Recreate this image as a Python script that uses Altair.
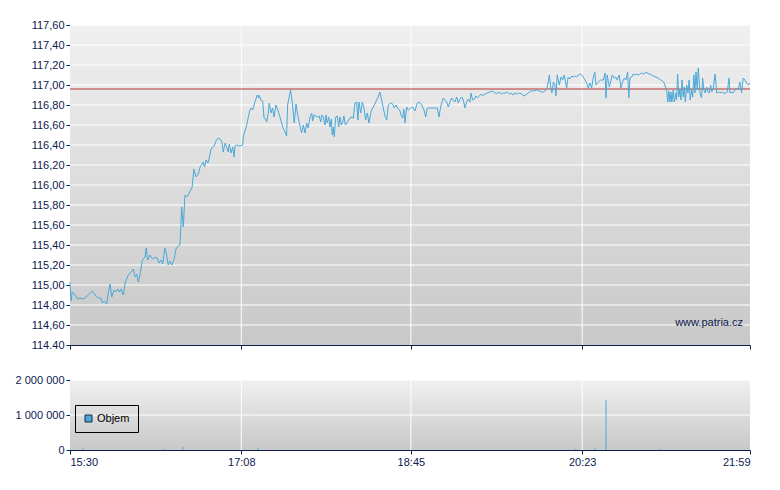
import altair as alt
import pandas as pd

# ---------------- data ----------------
session_open = "15:30"
time_ticks = ["15:30", "17:08", "18:45", "20:23", "21:59"]

# minutes after 15:30 and last price
minutes_after_open = [
    0.0, 0.6, 1.3, 2.9, 4.4, 5.7, 7.0, 8.6, 10.5, 12.8,
    14.3, 16.2, 17.6, 18.5, 19.6, 21.0, 21.9, 22.9, 23.9, 25.2,
    26.1, 27.3, 28.2, 29.2, 30.5, 31.5, 33.3, 34.9, 36.2, 37.2,
    38.2, 39.1, 40.0, 41.4, 42.9, 43.6, 44.4, 45.8, 46.7, 47.6,
    48.6, 49.9, 50.9, 52.1, 53.0, 54.3, 55.3, 56.2, 57.2, 58.2,
    59.5, 60.6, 61.9, 62.9, 63.9, 64.8, 65.8, 66.8, 67.7, 69.0,
    69.8, 70.9, 72.1, 73.4, 74.4, 75.3, 76.2, 77.0, 77.8, 78.9,
    79.7, 80.5, 81.6, 82.5, 83.5, 84.8, 85.8, 86.8, 87.7, 88.7,
    89.6, 90.5, 91.1, 92.1, 93.1, 93.8, 94.4, 95.4, 97.2, 98.8,
    99.1, 100.1, 101.1, 102.6, 103.5, 104.5, 105.8, 107.1, 107.9, 108.3,
    109.1, 110.2, 111.0, 111.9, 112.5, 113.4, 114.0, 115.0, 115.9, 116.7,
    117.8, 119.1, 120.1, 121.7, 123.0, 123.9, 124.5, 125.4, 126.2, 127.2,
    128.3, 129.3, 130.2, 131.2, 132.5, 133.5, 134.4, 135.4, 136.3, 137.3,
    138.3, 138.8, 139.6, 140.7, 141.7, 142.6, 143.4, 144.1, 144.9, 145.9,
    146.4, 147.2, 148.0, 148.7, 149.5, 150.0, 150.6, 151.2, 152.0, 152.9,
    153.7, 154.4, 155.2, 156.0, 156.7, 157.5, 158.3, 159.4, 160.7, 162.1,
    163.0, 164.0, 164.7, 165.3, 166.3, 167.2, 168.2, 169.1, 170.1, 171.0,
    172.2, 173.1, 174.1, 175.4, 176.3, 177.3, 178.3, 179.2, 180.2, 181.2,
    182.1, 183.4, 184.6, 185.5, 186.5, 187.4, 188.8, 189.3, 190.3, 191.0,
    191.6, 192.6, 193.5, 194.9, 196.0, 197.3, 198.7, 199.8, 201.2, 202.5,
    203.5, 204.4, 205.5, 206.9, 208.2, 210.1, 211.1, 212.0, 213.5, 214.5,
    215.5, 216.4, 217.4, 218.3, 219.2, 220.2, 221.2, 222.1, 223.1, 224.1,
    225.0, 225.9, 226.9, 227.8, 228.8, 229.4, 230.3, 231.3, 232.2, 233.2,
    234.1, 235.1, 236.0, 237.4, 238.7, 240.2, 241.8, 243.1, 244.1, 245.0,
    246.0, 246.9, 247.9, 249.4, 250.1, 251.3, 252.3, 253.6, 254.5, 255.9,
    257.0, 258.4, 259.7, 260.8, 262.1, 263.5, 265.0, 266.9, 268.4, 269.8,
    271.1, 272.7, 273.6, 274.2, 275.0, 275.7, 276.5, 277.4, 278.0, 278.7,
    279.9, 280.9, 281.8, 282.7, 284.1, 285.0, 286.0, 287.0, 287.9, 288.9,
    289.8, 290.8, 291.7, 292.7, 293.6, 294.6, 295.6, 296.5, 297.4, 298.4,
    299.4, 300.2, 300.9, 302.3, 303.6, 305.1, 306.1, 306.6, 307.3, 308.5,
    309.3, 310.2, 311.2, 312.1, 313.1, 314.2, 315.2, 316.1, 317.1, 318.0,
    319.0, 319.7, 320.3, 321.3, 322.2, 323.2, 324.1, 325.1, 326.0, 327.0,
    327.9, 328.9, 329.9, 330.8, 331.8, 332.7, 333.7, 335.2, 336.5, 337.9,
    339.0, 339.9, 340.9, 341.5, 341.9, 342.6, 343.2, 343.8, 344.3, 345.1,
    345.7, 346.5, 347.0, 347.6, 348.2, 348.9, 349.5, 350.1, 350.8, 351.4,
    352.0, 352.8, 353.5, 354.2, 354.8, 355.6, 356.2, 356.9, 357.5, 358.1,
    358.8, 359.4, 360.4, 361.3, 361.9, 362.6, 363.4, 364.2, 364.9, 365.7,
    366.5, 367.1, 368.0, 369.0, 370.0, 370.9, 371.8, 372.8, 373.7, 375.1,
    376.0, 377.0, 377.5, 378.5, 379.4, 380.4, 381.3, 382.3, 383.2, 384.2,
    385.1, 386.1, 387.0, 388.0, 389.0,
]
price = [
    115.03, 114.84, 114.93, 114.90, 114.86, 114.87, 114.86, 114.87, 114.90, 114.94,
    114.90, 114.87, 114.87, 114.82, 114.84, 114.81, 114.92, 115.01, 114.88, 114.95,
    114.93, 114.96, 114.93, 114.96, 114.90, 115.02, 115.10, 115.13, 115.16, 115.08,
    115.11, 115.03, 115.10, 115.25, 115.28, 115.37, 115.25, 115.30, 115.27, 115.26,
    115.28, 115.27, 115.22, 115.25, 115.21, 115.37, 115.30, 115.20, 115.24, 115.20,
    115.25, 115.36, 115.39, 115.40, 115.78, 115.58, 115.90, 115.88, 115.90, 115.95,
    115.97, 116.16, 116.08, 116.11, 116.18, 116.20, 116.23, 116.18, 116.25, 116.22,
    116.27, 116.35, 116.38, 116.39, 116.44, 116.47, 116.46, 116.44, 116.33, 116.42,
    116.38, 116.33, 116.41, 116.32, 116.38, 116.28, 116.39, 116.40, 116.39, 116.40,
    116.48, 116.54, 116.60, 116.73, 116.77, 116.75, 116.83, 116.90, 116.87, 116.90,
    116.85, 116.84, 116.67, 116.66, 116.63, 116.72, 116.82, 116.72, 116.77, 116.68,
    116.80, 116.74, 116.68, 116.58, 116.53, 116.49, 116.80, 116.88, 116.95, 116.82,
    116.62, 116.81, 116.70, 116.62, 116.52, 116.60, 116.52, 116.62, 116.57, 116.68,
    116.72, 116.64, 116.70, 116.69, 116.68, 116.69, 116.63, 116.70, 116.68, 116.60,
    116.70, 116.62, 116.68, 116.58, 116.66, 116.50, 116.58, 116.48, 116.68, 116.69,
    116.58, 116.68, 116.60, 116.63, 116.69, 116.60, 116.62, 116.65, 116.68, 116.67,
    116.82, 116.83, 116.65, 116.83, 116.72, 116.83, 116.77, 116.65, 116.72, 116.62,
    116.73, 116.77, 116.80, 116.85, 116.88, 116.93, 116.85, 116.77, 116.69, 116.65,
    116.80, 116.82, 116.81, 116.77, 116.80, 116.77, 116.74, 116.70, 116.67, 116.76,
    116.62, 116.78, 116.75, 116.77, 116.78, 116.74, 116.82, 116.83, 116.80, 116.75,
    116.68, 116.77, 116.77, 116.77, 116.77, 116.77, 116.68, 116.78, 116.87, 116.85,
    116.83, 116.78, 116.83, 116.87, 116.85, 116.83, 116.88, 116.82, 116.86, 116.88,
    116.85, 116.77, 116.83, 116.86, 116.83, 116.92, 116.85, 116.86, 116.89, 116.87,
    116.89, 116.91, 116.89, 116.91, 116.92, 116.93, 116.94, 116.92, 116.91, 116.93,
    116.92, 116.91, 116.92, 116.92, 116.93, 116.91, 116.92, 116.90, 116.92, 116.91,
    116.92, 116.91, 116.89, 116.90, 116.92, 116.94, 116.94, 116.95, 116.94, 116.93,
    116.93, 116.96, 117.03, 117.10, 116.98, 116.92, 117.03, 117.00, 116.89, 117.10,
    117.00, 117.08, 117.05, 117.10, 116.97, 117.08, 117.06, 117.09, 117.08, 117.09,
    117.08, 117.10, 117.11, 117.10, 117.08, 117.05, 117.02, 116.97, 117.02, 116.97,
    117.08, 117.13, 117.00, 117.03, 117.05, 117.05, 117.12, 116.87, 117.10, 116.98,
    117.03, 117.10, 117.07, 117.08, 117.05, 117.10, 116.97, 117.03, 117.07, 117.05,
    117.13, 116.87, 117.07, 117.08, 117.11, 117.10, 117.11, 117.10, 117.11, 117.12,
    117.11, 117.12, 117.13, 117.11, 117.11, 117.10, 117.09, 117.08, 117.07, 117.05,
    117.04, 117.02, 116.97, 116.93, 116.83, 116.94, 116.83, 116.93, 116.83, 116.95,
    116.83, 116.92, 116.85, 117.11, 116.88, 116.95, 116.85, 117.05, 116.88, 116.98,
    116.83, 117.00, 116.92, 117.05, 116.85, 116.95, 116.88, 117.10, 116.92, 117.13,
    116.95, 117.17, 116.92, 116.87, 117.07, 116.95, 116.92, 116.98, 116.93, 116.92,
    117.00, 116.93, 116.97, 117.11, 116.92, 116.93, 116.92, 116.93, 116.92, 116.92,
    116.93, 117.07, 116.92, 116.93, 116.92, 116.95, 116.97, 116.95, 117.03, 116.92,
    117.07, 117.05, 117.02, 117.00, 117.02,
]

volume_minutes = [7.4, 53.8, 64.6, 107.5, 288.9, 300.3, 306.6, 337.5]
volume_shares = [40000, 30000, 90000, 60000, 30000, 40000, 1430000, 30000]

reference_price = 116.96
price_ticks = [114.4, 114.6, 114.8, 115.0, 115.2, 115.4, 115.6, 115.8, 116.0,
               116.2, 116.4, 116.6, 116.8, 117.0, 117.2, 117.4, 117.6]
volume_ticks = [0, 1000000, 2000000]
legend_label = "Objem"
watermark = "www.patria.cz"

# ---------------- helpers ----------------
def to_min(hhmm):
    h, m = hhmm.split(":")
    return int(h) * 60 + int(m)

open_min = to_min(session_open)
tick_min = [to_min(t) for t in time_ticks]

price_df = pd.DataFrame({"t": [open_min + m for m in minutes_after_open], "y": price})
vol_df = pd.DataFrame({"t": [open_min + m for m in volume_minutes], "y": volume_shares,
                       "series": legend_label})

NAVY = "#0c2050"
BLUE = "#4aa8d8"
FONT = "Liberation Sans"
W = 680
H_TOP = 320
H_BOT = 70

xscale = alt.Scale(domain=[tick_min[0], tick_min[-1]], nice=False, zero=False, padding=0)
yscale = alt.Scale(domain=[price_ticks[0], price_ticks[-1]], nice=False, zero=False)
vscale = alt.Scale(domain=[volume_ticks[0], volume_ticks[-1]], nice=False)

time_label = "floor(datum.value/60) + ':' + (datum.value % 60 < 10 ? '0' : '') + (datum.value % 60)"
price_label = "datum.value < 114.41 ? '114.40' : replace(format(datum.value, '.2f'), '.', ',')"
volume_label = "replace(replace(format(datum.value, ','), ',', ' '), ',', ' ')"

# identical axis definitions shared by every layer of a panel
x_top = alt.X("t:Q", scale=xscale, title=None,
              axis=alt.Axis(values=tick_min, labels=False, title=None))
y_top = alt.Y("y:Q", scale=yscale, title=None,
              axis=alt.Axis(values=price_ticks, labelExpr=price_label, title=None))
x_bot = alt.X("t:Q", scale=xscale, title=None,
              axis=alt.Axis(values=tick_min, labelExpr=time_label, title=None))
y_bot = alt.Y("y:Q", scale=vscale, title=None,
              axis=alt.Axis(values=volume_ticks, labelExpr=volume_label, title=None))

grad = alt.LinearGradient(
    gradient="linear", x1=0, x2=0, y1=0, y2=1,
    stops=[alt.GradientStop(color="#f0f0f0", offset=0),
           alt.GradientStop(color="#c8c8c8", offset=1)],
)


def background():
    return alt.Chart(alt.Data(values=[{}])).mark_rect(color=grad).encode(
        x=alt.value(0), x2=alt.value("width"), y=alt.value(0), y2=alt.value("height")
    )


# ---------------- top panel ----------------
hgrid_top = alt.Chart(pd.DataFrame({"y": price_ticks[1:]})).mark_rule(
    color="white", strokeWidth=1
).encode(y=y_top)

vgrid_top = alt.Chart(pd.DataFrame({"t": tick_min[1:-1]})).mark_rule(
    color="white", strokeWidth=1
).encode(x=x_top)

ref_line = alt.Chart(pd.DataFrame({"y": [reference_price]})).mark_rule(
    color="#b83232", strokeWidth=1
).encode(y=y_top)

price_line = alt.Chart(price_df).mark_line(color=BLUE, strokeWidth=1).encode(
    x=x_top, y=y_top
)

mark_wm = alt.Chart(alt.Data(values=[{"label": watermark}])).mark_text(
    align="right", baseline="middle", font=FONT, fontSize=11, color=NAVY
).encode(text="label:N", x=alt.value(673), y=alt.value(298))

top = alt.layer(background(), hgrid_top, vgrid_top, ref_line, price_line, mark_wm).properties(
    width=W, height=H_TOP
)

# ---------------- bottom panel ----------------
hgrid_bot = alt.Chart(pd.DataFrame({"y": volume_ticks[1:]})).mark_rule(
    color="white", strokeWidth=1
).encode(y=y_bot)

vgrid_bot = alt.Chart(pd.DataFrame({"t": tick_min[1:-1]})).mark_rule(
    color="white", strokeWidth=1
).encode(x=x_bot)

vol_bars = alt.Chart(vol_df).mark_bar(size=1).encode(
    x=x_bot,
    y=y_bot,
    color=alt.Color(
        "series:N",
        scale=alt.Scale(range=[BLUE]),
        legend=alt.Legend(
            title=None, orient="none", legendX=5, legendY=380,
            strokeColor="black", padding=8, symbolType="square", symbolSize=49,
            labelFont=FONT, labelFontSize=11, labelColor="black", labelOffset=3,
            symbolStrokeColor="#1a2a44", symbolStrokeWidth=1,
        ),
    ),
)

bottom = alt.layer(background(), hgrid_bot, vgrid_bot, vol_bars).properties(
    width=W, height=H_BOT
)

chart = alt.vconcat(top, bottom, spacing=24).properties(
    padding={"left": 7, "top": 11, "right": 5, "bottom": 5}
).configure_view(
    strokeWidth=0
).configure_axis(
    domainColor=NAVY, tickColor=NAVY, labelColor=NAVY, labelFont=FONT,
    labelFontSize=11, tickSize=4, labelPadding=2, grid=False,
    domainWidth=1
)

chart.save("out.html", embed_options={"renderer": "svg", "actions": False})
